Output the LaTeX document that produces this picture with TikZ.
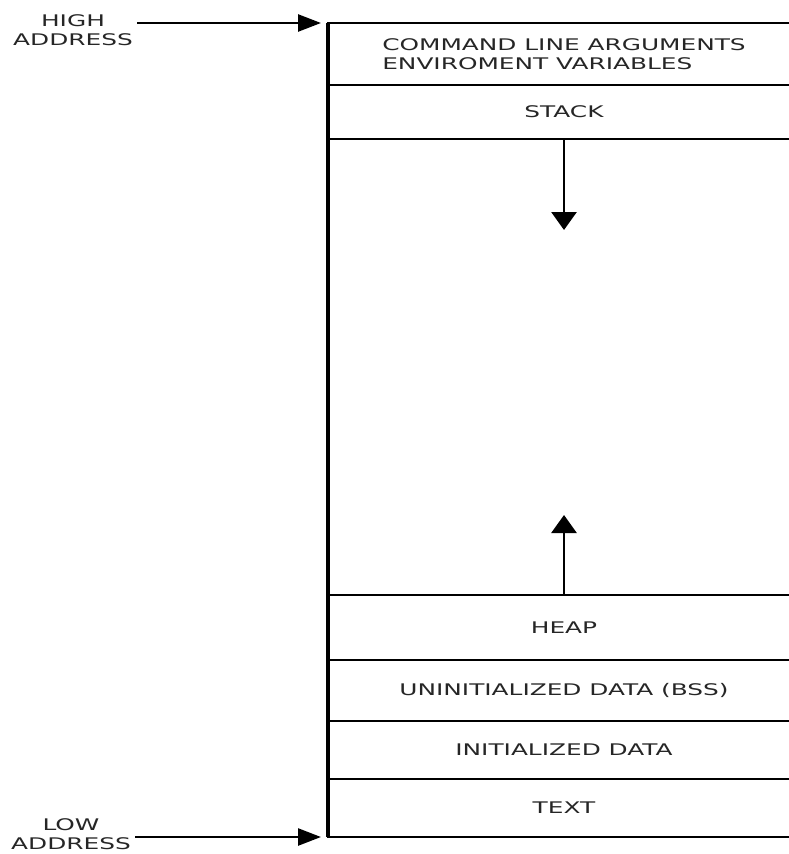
\documentclass[tikz,border=0pt]{standalone}
\usepackage{fontspec}
\usepackage{xcolor}
\usepackage{tikz}
\usetikzlibrary{arrows.meta,positioning}
\newfontfamily\memfont[FakeStretch=1.55]{DejaVu Sans}
\tikzset{
  node distance=0pt,
  segment/.style={draw=black,line width=2.2pt,outer sep=0pt,
                  minimum width=472pt,inner sep=0pt,
                  font=\memfont\fontsize{16}{18.6}\selectfont,text=black!85},
  addr/.style={align=center,inner sep=0pt,
               font=\memfont\fontsize{16}{18.6}\selectfont,text=black!85}
}

\begin{document}
\begin{tikzpicture}[x=1pt,y=-1pt]
          \useasboundingbox (0,0) rectangle (789,854);
          \clip (0,0) rectangle (789,854);
          \begin{scope}
              \node[segment,minimum height=62pt,align=left] (cmd) at (564,54)
                    {COMMAND LINE ARGUMENTS\\ENVIROMENT VARIABLES};
              \node[segment,minimum height=54pt] (stack) [below=of cmd] {STACK};
              
              \node[segment,minimum height=65pt] (heap) [below=456pt of stack] {HEAP};
              \node[segment,minimum height=61pt] (bss)  [below=of heap] {UNINITIALIZED DATA (BSS)};
              \node[segment,minimum height=58pt] (data) [below=of bss ] {INITIALIZED DATA};
              \node[segment,minimum height=58pt] (text) [below=of data] {TEXT};
              
              \node[addr] (high) at (73,30) {HIGH\\ADDRESS};
              \node[addr] (low)  at (71,834) {LOW\\ADDRESS};
              
              \coordinate (hightail)  at (137,23);
              \coordinate (lowtail)   at (135,837);
              \coordinate (stackgrow) at (564,230);
              \coordinate (heapgrow)  at (564,515);
          \end{scope}
          
          % left border of the address space
          \draw[line width=4pt] (cmd.north west) -- (text.south west);
          
          \begin{scope}[>={Triangle[length=23pt,width=17pt]},
                        every edge/.style={draw=black,line width=2.5pt}]
              \path [->] (hightail) edge[shorten >=7pt] (cmd.north west);
              \path [->] (lowtail)  edge[shorten >=7pt] (text.south west);
          \end{scope}
          
          \begin{scope}[>={Triangle[length=18pt,width=25pt]},
                        every edge/.style={draw=black,line width=2.8pt}]
              \path [->] (stack.south) edge (stackgrow);
              \path [->] (heap.north)  edge (heapgrow);
          \end{scope}
\end{tikzpicture}
\end{document}
